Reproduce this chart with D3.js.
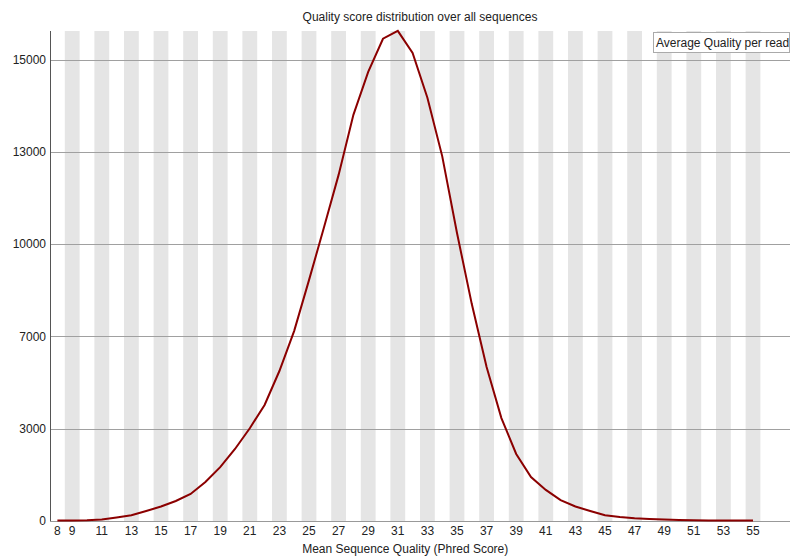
<!DOCTYPE html>
<html>
<head>
<meta charset="utf-8">
<script src="https://cdn.jsdelivr.net/npm/d3@7"></script>
<style>
  body { margin: 0; background: #fff; }
  text { font-family: "Liberation Sans", Arial, sans-serif; }
</style>
</head>
<body>
<div id="chart"></div>
<script>
// Quality scores (x categories)
const qualities = [8, 9, 10, 11, 12, 13, 14, 15, 16, 17, 18, 19, 20, 21, 22, 23, 24, 25, 26, 27,
  28, 29, 30, 31, 32, 33, 34, 35, 36, 37, 38, 39, 40, 41, 42, 43, 44, 45, 46, 47,
  48, 49, 50, 51, 52, 53, 54, 55];

// Read counts per mean quality
const counts = [15, 15, 25, 50, 115, 185, 325, 470, 650, 880, 1270, 1750, 2340, 3020, 4030, 5500, 7180, 8830, 10520, 12250,
  13800, 14730, 15450, 15620, 15140, 14170, 12860, 10360, 8050, 5670, 3460, 2180, 1430, 1010, 680, 470, 325, 185, 130, 90,
  65, 45, 30, 25, 20, 20, 15, 15];

// Tick labels as printed on the axes
const xTickLabels = [8, 9, 11, 13, 15, 17, 19, 21, 23, 25, 27, 29, 31, 33, 35, 37, 39, 41, 43, 45, 47, 49, 51, 53, 55];
const yTickLabels = [0, 3000, 7000, 10000, 13000, 15000];

const seriesName = "Average Quality per read";

const width = 791, height = 556;
const margin = { top: 31, right: 1, bottom: 35, left: 50 };
const binWidth = 14.8;
const plotBottom = height - margin.bottom;

const svg = d3.select("#chart")
  .append("svg")
  .attr("width", width)
  .attr("height", height);

// x scale: one band per quality value
const x = d3.scaleBand()
  .domain(qualities)
  .range([margin.left, margin.left + binWidth * qualities.length])
  .padding(0);

// y labels are evenly spaced in the picture, so use a piecewise scale
const step = (plotBottom - 59.5) / (yTickLabels.length - 1);
const y = d3.scaleLinear()
  .domain(yTickLabels)
  .range(yTickLabels.map((d, i) => plotBottom - i * step));

// alternating stripes
svg.append("g")
  .selectAll("rect")
  .data(qualities.filter((d, i) => i % 2 === 1))
  .enter()
  .append("rect")
  .attr("x", d => x(d))
  .attr("y", margin.top)
  .attr("width", x.bandwidth())
  .attr("height", plotBottom - margin.top)
  .attr("fill", "#e5e5e5");

// horizontal grid lines
svg.append("g")
  .selectAll("line")
  .data(yTickLabels.slice(1))
  .enter()
  .append("line")
  .attr("x1", margin.left)
  .attr("x2", width - margin.right)
  .attr("y1", d => Math.round(y(d)) + 0.5)
  .attr("y2", d => Math.round(y(d)) + 0.5)
  .attr("stroke", "#a0a0a0")
  .attr("stroke-width", 1);

// y axis labels
svg.append("g")
  .selectAll("text")
  .data(yTickLabels)
  .enter()
  .append("text")
  .attr("x", 46)
  .attr("y", d => y(d))
  .attr("dy", "0.35em")
  .attr("text-anchor", "end")
  .style("font-size", "12px")
  .attr("fill", "#222")
  .text(d => d);

// x axis labels
svg.append("g")
  .selectAll("text")
  .data(xTickLabels)
  .enter()
  .append("text")
  .attr("x", d => x(d) + x.bandwidth() / 2)
  .attr("y", plotBottom + 14)
  .attr("text-anchor", "middle")
  .style("font-size", "12px")
  .attr("fill", "#222")
  .text(d => d);

// axes lines
svg.append("line")
  .attr("x1", margin.left + 0.5).attr("x2", margin.left + 0.5)
  .attr("y1", margin.top).attr("y2", plotBottom)
  .attr("stroke", "#555");
svg.append("line")
  .attr("x1", margin.left).attr("x2", width - margin.right)
  .attr("y1", plotBottom + 0.5).attr("y2", plotBottom + 0.5)
  .attr("stroke", "#999");

// the data line
const line = d3.line()
  .x((d, i) => x(qualities[i]) + x.bandwidth() / 2)
  .y(d => y(d));

svg.append("path")
  .datum(counts)
  .attr("fill", "none")
  .attr("stroke", "#8b0000")
  .attr("stroke-width", 2)
  .attr("stroke-linejoin", "miter")
  .attr("d", line);

// title
svg.append("text")
  .attr("x", (margin.left + width - margin.right) / 2)
  .attr("y", 21)
  .attr("text-anchor", "middle")
  .style("font-size", "12px")
  .attr("fill", "#222")
  .text("Quality score distribution over all sequences");

// x axis title
svg.append("text")
  .attr("x", margin.left + binWidth * qualities.length / 2)
  .attr("y", 553)
  .attr("text-anchor", "middle")
  .style("font-size", "12px")
  .attr("fill", "#222")
  .text("Mean Sequence Quality (Phred Score)");

// legend
const legend = svg.append("g").attr("transform", "translate(653, 32)");
legend.append("rect")
  .attr("x", 0.5).attr("y", 0.5)
  .attr("width", 136).attr("height", 20)
  .attr("fill", "#fff")
  .attr("stroke", "#aaa");
legend.append("text")
  .attr("x", 3)
  .attr("y", 15)
  .style("font-size", "12px")
  .attr("fill", "#222")
  .text(seriesName);
</script>
</body>
</html>
